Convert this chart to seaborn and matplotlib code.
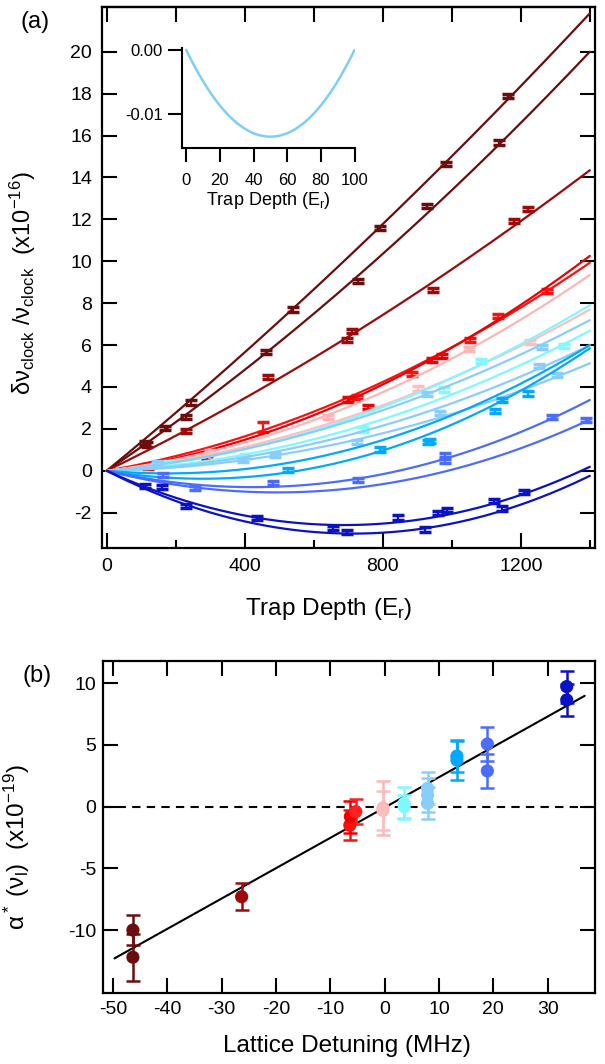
import numpy as np
import pandas as pd
import seaborn as sns
import matplotlib.pyplot as plt

# ---- panel (a): fitted curves, shift = lin*U + quad*U^2  (x1e-16)
curve_color = ['#6b0d0d', '#6b0d0d', '#9c0a0a', '#ff1010', '#ee0000', '#ffb5b5',
               '#ffbdbd', '#80f8ff', '#80f8ff', '#87cefa', '#87cefa', '#87cefa',
               '#00a8ff', '#00a8ff', '#4a6cff', '#4a6cff', '#0a12c4', '#0a12c4']
fit_lin = [0.01355, 0.01115, 0.008034, 0.002907, 0.002243, 0.002041,
           0.001786, 0.00135, 0.0008, 0.001579, 0.000334, 0.000571,
           -0.00143, -0.00274, -0.00369, -0.00418, -0.007536, -0.00839]
fit_quad = [1.46e-6, 2.24e-6, 1.58e-6, 2.99e-6, 3.63e-6, 3.31e-6,
            2.65e-6, 3.07e-6, 2.84e-6, 2.54e-6, 2.38e-6, 2.65e-6,
            4.08e-6, 4.94e-6, 4.36e-6, 4.23e-6, 5.48e-6, 5.87e-6]

# measured points: curve index, trap depth (Er), shift, error
pt_curve = [0, 0, 0, 0, 0, 0, 0,
            1, 1, 1, 1, 1, 1,
            2, 2, 2, 2, 2, 2, 2,
            3, 3, 3, 3, 3, 3,
            4, 4, 4, 4, 4, 4,
            5, 5, 5,
            6, 6, 6,
            7, 7, 7,
            8, 8, 8,
            9, 9, 9,
            10, 10, 10, 10,
            11, 11,
            12, 12, 12, 12,
            13, 13, 13,
            14, 14, 14, 14,
            15, 15, 15, 15,
            16, 16, 16, 16, 16, 16, 16,
            17, 17, 17, 17, 17, 17]
pt_depth = [111, 169, 243, 539, 792, 982, 1164,
            118, 230, 461, 729, 928, 1138,
            230, 468, 696, 710, 945, 1179, 1222,
            454, 725, 884, 1053, 1135, 1275,
            120, 290, 700, 758, 942, 971,
            300, 640, 1050,
            150, 903, 1227,
            180, 976, 1084,
            400, 744, 1324,
            145, 927, 1261,
            396, 725, 966, 1304,
            488, 1254,
            792, 931, 1145, 1222,
            526, 937, 1125,
            164, 729, 981, 1290,
            256, 483, 981, 1389,
            111, 435, 845, 961, 986, 1121, 1208,
            159, 230, 657, 696, 923, 1145]
pt_shift = [1.31, 2.05, 3.26, 7.70, 11.57, 14.64, 17.9,
            1.25, 2.58, 5.65, 9.07, 12.65, 15.67,
            1.9, 4.49, 6.24, 6.68, 8.63, 11.92, 12.48,
            2.1, 3.53, 4.62, 6.24, 7.38, 8.59,
            0.2, 0.6, 3.4, 3.03, 5.28, 5.47,
            0.9, 2.55, 5.8,
            0.3, 3.93, 6.16,
            0.35, 3.88, 5.25,
            0.7, 1.97, 5.97,
            0.35, 3.66, 5.89,
            0.51, 1.38, 2.74, 4.57,
            0.75, 5.0,
            1.02, 1.38, 3.37, 3.69,
            0.03, 1.43, 2.87,
            -0.2, -0.45, 0.75, 2.58,
            -0.84, -0.6, 0.48, 2.42,
            -0.73, -2.27, -2.23, -2.03, -1.88, -1.43, -1.0,
            -0.76, -1.68, -2.75, -2.91, -2.8, -1.8]
pt_err = [0.1] * len(pt_shift)
pt_err[20] = 0.25

# inset curve
inset_lin = -5.42e-4
inset_quad = 5.42e-6

# ---- panel (b)
det_x = [-46.3, -46.3, -26.3, -6.4, -6.3, -5.3, -0.3, -0.3, 3.6, 3.6,
         7.9, 7.9, 7.9, 13.3, 13.3, 18.9, 18.9, 33.5, 33.5]
alpha_y = [-10.0, -12.2, -7.3, -1.5, -0.8, -0.4, -0.1, -0.3, 0.27, 0.0,
           1.49, 0.95, 0.27, 4.1, 3.78, 5.08, 2.9, 9.73, 8.65]
alpha_err = [1.2, 1.9, 1.1, 1.2, 1.3, 1.0, 2.2, 1.6, 1.3, 0.95,
             1.3, 1.4, 1.3, 1.25, 1.6, 1.35, 1.4, 1.3, 1.3]
alpha_color = ['#6b0d0d', '#6b0d0d', '#9c0a0a', '#ff1010', '#ee0000', '#ff2020',
               '#ffb5b5', '#ffbdbd', '#80f8ff', '#80f8ff', '#87cefa', '#87cefa',
               '#87cefa', '#00a8ff', '#00a8ff', '#4a6cff', '#4a6cff', '#0a12c4',
               '#0a12c4']
line_slope = 0.246
line_icpt = -0.07
line_range = [-49.7, 36.8]

sns.set_style('ticks')
plt.rcParams['font.family'] = ['Liberation Sans', 'DejaVu Sans']
plt.rcParams['mathtext.fontset'] = 'custom'
plt.rcParams['mathtext.rm'] = 'Liberation Sans'
plt.rcParams['mathtext.it'] = 'Liberation Sans'
plt.rcParams['mathtext.default'] = 'regular'
plt.rcParams['axes.unicode_minus'] = False
plt.rcParams['text.color'] = 'black'
plt.rcParams['axes.labelcolor'] = 'black'

fig = plt.figure(figsize=(6.05, 10.64), dpi=100)
W, H = 605, 1064


def px_axes(l, t, r, b):
    return fig.add_axes([l / W, 1 - b / H, (r - l) / W, (b - t) / H])


def frame(ax):
    for s in ax.spines.values():
        s.set_linewidth(1.6)
        s.set_color('black')
    ax.tick_params(which='both', direction='in', top=True, right=True,
                   width=1.5, colors='black', labelsize=14)
    ax.tick_params(which='major', length=11)
    ax.tick_params(which='minor', length=6)


# ---- (a)
ax = px_axes(101.7, 6.7, 595, 548.3)
U = np.linspace(0, 1400, 300)
rows = []
for i in range(len(fit_lin)):
    for u in U:
        rows.append((i, u, fit_lin[i] * u + fit_quad[i] * u * u))
curves = pd.DataFrame(rows, columns=['curve', 'depth', 'shift'])
pts = pd.DataFrame({'curve': pt_curve, 'depth': pt_depth,
                    'shift': pt_shift, 'err': pt_err})
for i in range(len(fit_lin)):
    sns.lineplot(data=curves[curves.curve == i], x='depth', y='shift',
                 color=curve_color[i], lw=1.6, ax=ax, legend=False)
    p = pts[pts.curve == i]
    ax.errorbar(p.depth, p['shift'], yerr=p.err, fmt='none',
                ecolor=curve_color[i], elinewidth=1.6, capsize=4.5,
                capthick=2.5)
ax.set_xlim(-14.5, 1415)
ax.set_ylim(-3.70, 22.15)
frame(ax)
ax.set_xticks([0, 400, 800, 1200])
ax.set_xticks([200, 600, 1000, 1400], minor=True)
ax.set_yticks(range(-2, 21, 2))
ax.tick_params(axis='x', pad=7)
ax.tick_params(axis='y', pad=7)
ax.set_xlabel('Trap Depth (E$_r$)', fontsize=17.5)
ax.xaxis.set_label_coords(0.46, -0.088)
ax.set_ylabel(r'$\delta\nu_{clock}\ /\nu_{clock}\ \ (x10^{-16})$',
              fontsize=17)
ax.yaxis.set_label_coords(-0.13, 0.49)
# top axis: plain ticks every 200
axt = ax.secondary_xaxis('top')
axt.set_xticks(range(0, 1401, 200))
axt.tick_params(direction='in', length=11, width=1.5, labeltop=False,
                colors='black')
axt.spines['top'].set_linewidth(1.6)
ax.tick_params(axis='x', which='both', top=False)
fig.text(21 / W, 1 - 22 / H, '(a)', fontsize=17, va='center')

# inset
ins = px_axes(182.3, 48, 354.5, 147.7)
Ui = np.linspace(0, 100, 200)
inset_df = pd.DataFrame({'depth': Ui, 'shift': inset_lin * Ui + inset_quad * Ui ** 2})
sns.lineplot(data=inset_df, x='depth', y='shift', color='#7ccff5', lw=1.8,
             ax=ins, legend=False)
ins.set_xlim(-2.3, 100)
ins.set_ylim(-0.01527, 0.0003)
for s in ['top', 'right']:
    ins.spines[s].set_visible(False)
for s in ['left', 'bottom']:
    ins.spines[s].set_linewidth(1.5)
    ins.spines[s].set_color('black')
ins.set_xticks(range(0, 101, 20))
ins.set_yticks([0.0, -0.01])
ins.set_yticklabels(['0.00', '-0.01'])
ins.tick_params(direction='out', length=10, width=1.5, labelsize=12,
                colors='black')
ins.tick_params(axis='x', pad=8)
ins.tick_params(axis='y', pad=4)
ins.set_xlabel('Trap Depth (E$_r$)', fontsize=13, labelpad=2)
ins.set_ylabel('')
ins.patch.set_alpha(0)

# ---- (b)
bx = px_axes(103, 660.7, 595, 993)
bx.axhline(0, color='black', lw=1.5, ls=(0, (4, 3)))
line_df = pd.DataFrame({'det': line_range,
                        'alpha': [line_slope * v + line_icpt for v in line_range]})
sns.lineplot(data=line_df, x='det', y='alpha', color='black', lw=1.5, ax=bx,
             legend=False)
for xv, yv, ev, cv in zip(det_x, alpha_y, alpha_err, alpha_color):
    bx.errorbar([xv], [yv], yerr=[ev], fmt='none', ecolor=cv, elinewidth=1.8,
                capsize=5, capthick=1.8)
pb = pd.DataFrame({'det': det_x, 'alpha': alpha_y, 'c': alpha_color})
sns.scatterplot(data=pb, x='det', y='alpha', hue='c', palette={c: c for c in alpha_color},
                s=90, edgecolor='none', ax=bx, legend=False, zorder=3)
bx.set_xlim(-51.8, 38.7)
bx.set_ylim(-15.1, 11.83)
frame(bx)
bx.set_xticks(range(-50, 31, 10))
bx.set_yticks([-10, -5, 0, 5, 10])
bx.tick_params(axis='x', pad=6)
bx.tick_params(axis='y', pad=5)
bx.set_xlabel('Lattice Detuning (MHz)', fontsize=17.5)
bx.xaxis.set_label_coords(0.495, -0.125)
bx.set_ylabel(r'$\alpha^*\ (\nu_l)\ \ (x10^{-19})$', fontsize=17.5)
bx.yaxis.set_label_coords(-0.145, 0.44)
fig.text(22 / W, 1 - 676 / H, '(b)', fontsize=17, va='center')

fig.savefig('out.png', dpi=100)
